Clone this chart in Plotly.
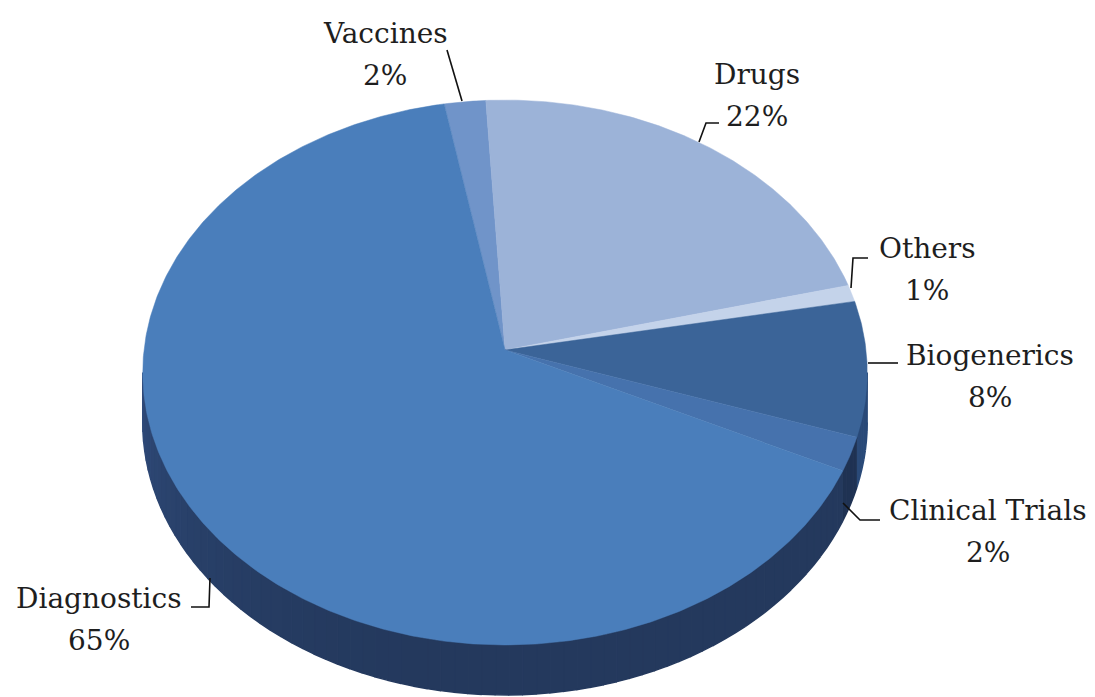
import numpy as np
import plotly.graph_objects as go

# ---- data ----
categories = ["Vaccines", "Drugs", "Others", "Biogenerics", "Clinical Trials", "Diagnostics"]
values = [2, 22, 1, 8, 2, 65]

# ---- styles ----
top_colors = ["#7094c9", "#9cb3d8", "#c4d3ea", "#3b6498", "#4672ad", "#4a7ebb"]
side_colors = ["#3d5f93", "#5a78a8", "#8ea3c4", "#2a4a78", "#1f3253", "#24395d"]

# geometry of the tilted pie (pixel space)
AX, AY = 505.0, 350.0       # apex (centre of the circle)
RX, RY = 361.0, 270.6       # projected radii
PERS = 0.0826               # perspective factor
DEPTH = 50.0                # thickness of the pie
START = -10.5               # start angle (deg, clockwise from top)

def rim(theta_deg):
    t = np.radians(theta_deg)
    X, Z = np.sin(t), np.cos(t)
    w = 1.0 / (1.0 + PERS * Z)
    return AX + RX * X * w, AY - RY * Z * w

total = float(sum(values))
bounds = [START]
for v in values:
    bounds.append(bounds[-1] + 360.0 * v / total)

fig = go.Figure()

# visible front range of the side wall
vis_lo = np.degrees(np.arccos(-PERS))
vis_hi = 360.0 - vis_lo

def shade(hexcol, f):
    h = hexcol.lstrip("#")
    r, g, b = (int(h[i:i + 2], 16) for i in (0, 2, 4))
    return "rgb(%d,%d,%d)" % (min(255, r * f), min(255, g * f), min(255, b * f))

# side walls
for i, name in enumerate(categories):
    a, b = bounds[i], bounds[i + 1]
    segs = []
    for off in (0, 360, -360):
        lo, hi = max(a + off, vis_lo), min(b + off, vis_hi)
        if hi > lo:
            segs.append((lo, hi))
    for lo, hi in segs:
        n = max(2, int((hi - lo) / 2) + 1)
        edges = np.linspace(lo, hi, n + 1)
        for k in range(n):
            th = np.linspace(edges[k], edges[k + 1], 6)
            x, y = rim(th)
            mid = 0.5 * (edges[k] + edges[k + 1])
            f = 1.0 + 0.35 * max(0.0, (mid - 180.0) / 90.0) ** 2
            col = shade(side_colors[i], f)
            xs = np.concatenate([x, x[::-1]])
            ys = np.concatenate([y, (y + DEPTH)[::-1]])
            fig.add_trace(go.Scatter(x=xs, y=ys, fill="toself", mode="lines",
                                     line=dict(color=col, width=1.5), fillcolor=col,
                                     hoverinfo="skip", showlegend=False))

# top faces
for i, name in enumerate(categories):
    a, b = bounds[i], bounds[i + 1]
    th = np.linspace(a, b, max(4, int((b - a) * 2)))
    x, y = rim(th)
    xs = np.concatenate([[AX], x, [AX]])
    ys = np.concatenate([[AY], y, [AY]])
    fig.add_trace(go.Scatter(x=xs, y=ys, fill="toself", mode="lines",
                             line=dict(color=top_colors[i], width=0.5),
                             fillcolor=top_colors[i], name=name,
                             hovertemplate=name + ": %{text}<extra></extra>",
                             text=["%d%%" % values[i]] * len(xs), showlegend=False))

# labels (positions are layout, not data)
label_pos = {
    "Vaccines": (385, 54),
    "Drugs": (757, 95),
    "Others": (927, 269),
    "Biogenerics": (990, 376),
    "Clinical Trials": (988, 531),
    "Diagnostics": (99, 619),
}
leaders = {
    "Vaccines": [(447, 50), (462, 101)],
    "Drugs": [(719, 123), (706, 123), (699, 142)],
    "Others": [(868, 258), (853, 258), (851, 288)],
    "Biogenerics": [(868, 363), (898, 363)],
    "Clinical Trials": [(843, 503), (860, 520), (880, 520)],
    "Diagnostics": [(191, 607), (209, 607), (210, 578)],
}
FONT = dict(family="DejaVu Serif", size=28, color="#1e1e1e")
for i, name in enumerate(categories):
    x, y = label_pos[name]
    fig.add_annotation(x=x, y=y - 21, text=name, showarrow=False,
                       xanchor="center", yanchor="middle", font=FONT)
    fig.add_annotation(x=x, y=y + 21, text="%d%%" % round(100 * values[i] / total),
                       showarrow=False, xanchor="center", yanchor="middle", font=FONT)
    pts = leaders[name]
    path = "M " + " L ".join("%g,%g" % p for p in pts)
    fig.add_shape(type="path", path=path, line=dict(color="#111111", width=1.6),
                  xref="x", yref="y")

fig.update_xaxes(range=[0, 1095], visible=False, fixedrange=True)
fig.update_yaxes(range=[697, 0], visible=False, fixedrange=True)
fig.update_layout(width=1095, height=697, margin=dict(l=0, r=0, t=0, b=0),
                  plot_bgcolor="white", paper_bgcolor="white")
fig.write_html("out.html")
